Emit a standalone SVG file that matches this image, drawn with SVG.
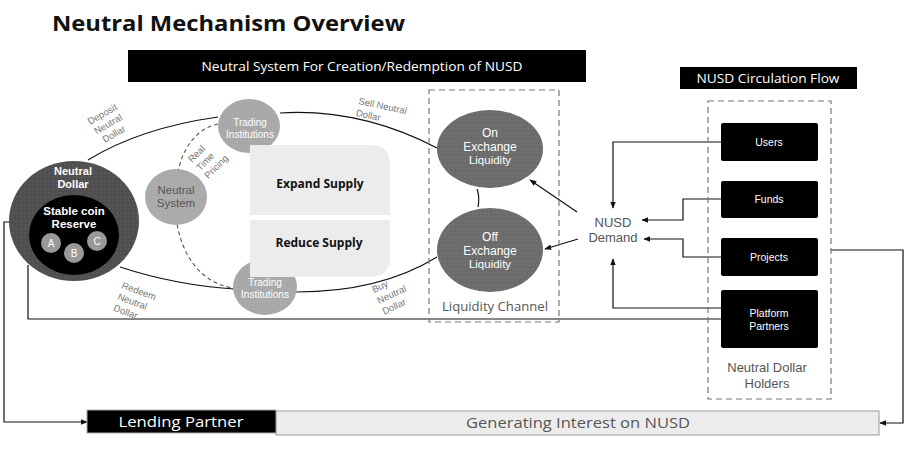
<svg xmlns="http://www.w3.org/2000/svg" width="913" height="453" viewBox="0 0 913 453">
<defs>
<pattern id="dots" width="4" height="4" patternUnits="userSpaceOnUse">
<circle cx="1" cy="1" r="0.45" fill="#ffffff" fill-opacity="0.35"/>
</pattern>
<marker id="arr" viewBox="0 0 10 10" refX="9" refY="5" markerWidth="7" markerHeight="7" orient="auto-start-reverse" markerUnits="userSpaceOnUse">
<path d="M0,1 L10,5 L0,9 z" fill="#111"/>
</marker>
</defs>
<style>
text{font-family:"Open Sans","Liberation Sans",sans-serif;}
.s{font-family:"Liberation Sans",Arial,sans-serif;}
.w{fill:#fff;text-anchor:middle;}
.g{fill:#555;text-anchor:middle;}
.lab{fill:#777;font-size:9.5px;font-family:"Liberation Sans",Arial,sans-serif;}
.b{font-weight:bold;}
.line{fill:none;stroke:#111;stroke-width:1.2;}
.dash{fill:none;stroke:#777;stroke-width:1.2;stroke-dasharray:6 4;}
.blk{fill:#000;}
</style>
<rect width="913" height="453" fill="#fff"/>

<g id="title">
<text x="52" y="31" font-size="22" font-weight="bold" fill="#111" textLength="353" lengthAdjust="spacingAndGlyphs">Neutral Mechanism Overview</text>
</g>

<g id="banner-creation">
<rect x="128" y="50" width="458" height="32" class="blk"/>
<text x="362" y="71" class="w" font-size="12.5" textLength="321" lengthAdjust="spacingAndGlyphs">Neutral System For Creation/Redemption of NUSD</text>
</g>

<g id="banner-circulation">
<rect x="680" y="67" width="177" height="22" class="blk"/>
<text x="768" y="83" class="w" font-size="12.5" textLength="143" lengthAdjust="spacingAndGlyphs">NUSD Circulation Flow</text>
</g>

<g id="connectors">
<path class="line" d="M88,160 Q140,128 218,117"/>
<path class="line" d="M280,113 Q360,108 437,148"/>
<path class="line" d="M120,267 Q175,285 234,289"/>
<path class="line" d="M296,292 Q380,292 437,257"/>
<path fill="none" stroke="#555" stroke-width="1.1" stroke-dasharray="4 3" d="M218,124 C190,130 175,160 175,200 C175,245 195,282 233,288"/>
<path class="line" d="M477,189 Q480,197 478,207"/>
<path class="line" marker-end="url(#arr)" d="M577,212 L530,180"/>
<path class="line" marker-end="url(#arr)" d="M578,239 L545,249"/>
<path class="line" marker-end="url(#arr)" d="M721,142 H613 V208"/>
<path class="line" marker-end="url(#arr)" d="M721,199 H683 V220 H642"/>
<path class="line" marker-end="url(#arr)" d="M721,257 H683 V239 H644"/>
<path class="line" marker-end="url(#arr)" d="M721,308 H613 V259"/>
<path class="line" d="M28,265 V319 H721"/>
<path class="line" marker-end="url(#arr)" d="M10,222 H4 V422 H87"/>
<path class="line" marker-end="url(#arr)" d="M831,250 H903 V423 H880"/>
</g>

<g id="label-deposit" transform="translate(104,117) rotate(-30)">
<text class="lab" text-anchor="middle" x="0" y="0">Deposit</text>
<text class="lab" text-anchor="middle" x="0" y="11.5">Neutral</text>
<text class="lab" text-anchor="middle" x="0" y="23">Dollar</text>
</g>
<g id="label-redeem" transform="translate(121,288) rotate(20)">
<text class="lab" x="0" y="0">Redeem</text>
<text class="lab" x="0" y="12">Neutral</text>
<text class="lab" x="0" y="24">Dollar</text>
</g>
<g id="label-sell" transform="translate(358,104) rotate(12)">
<text class="lab" x="0" y="0">Sell Neutral</text>
<text class="lab" x="0" y="12">Dollar</text>
</g>
<g id="label-buy" transform="translate(374,293) rotate(-25)">
<text class="lab" x="0" y="0">Buy</text>
<text class="lab" x="0" y="12">Neutral</text>
<text class="lab" x="0" y="24">Dollar</text>
</g>
<g id="label-pricing" transform="translate(192,163) rotate(-45)">
<text class="lab" x="0" y="0">Real</text>
<text class="lab" x="0" y="11.5">Time</text>
<text class="lab" x="0" y="23">Pricing</text>
</g>

<g id="neutral-dollar">
<ellipse cx="74" cy="221" rx="65" ry="60" fill="#4f4f4f"/>
<ellipse cx="74" cy="221" rx="65" ry="60" fill="url(#dots)"/>
<ellipse cx="74" cy="235" rx="45" ry="40" fill="#000"/>
<text x="73" y="175" class="w b s" font-size="11">Neutral</text>
<text x="73" y="188" class="w b s" font-size="11">Dollar</text>
<text x="74" y="215" class="w b s" font-size="11.5">Stable coin</text>
<text x="74" y="228" class="w b s" font-size="11.5">Reserve</text>
</g>
<g id="coin-a"><circle cx="51" cy="243" r="10" fill="#999"/><text x="51" y="247" class="w s" font-size="10">A</text></g>
<g id="coin-b"><circle cx="74" cy="253" r="10" fill="#999"/><text x="74" y="257" class="w s" font-size="10">B</text></g>
<g id="coin-c"><circle cx="97" cy="241" r="10" fill="#999"/><text x="97" y="245" class="w s" font-size="10">C</text></g>

<g id="neutral-system">
<ellipse cx="176" cy="197" rx="31" ry="28" fill="#aaa"/>
<ellipse cx="176" cy="197" rx="31" ry="28" fill="url(#dots)"/>
<text x="176" y="194" class="g s" font-size="11.5" fill="#4a4a4a">Neutral</text>
<text x="176" y="207" class="g s" font-size="11.5" fill="#4a4a4a">System</text>
</g>

<g id="trading-top">
<ellipse cx="249" cy="126" rx="31" ry="27" fill="#a8a8a8"/>
<ellipse cx="249" cy="126" rx="31" ry="27" fill="url(#dots)"/>
<text x="250" y="126" class="w s" font-size="10">Trading</text>
<text x="250" y="138" class="w s" font-size="10">Institutions</text>
</g>

<g id="trading-bottom">
<ellipse cx="265" cy="287" rx="32" ry="28" fill="#a8a8a8"/>
<ellipse cx="265" cy="287" rx="32" ry="28" fill="url(#dots)"/>
<text x="265" y="286" class="w s" font-size="10">Trading</text>
<text x="265" y="298" class="w s" font-size="10">Institutions</text>
</g>

<g id="expand-supply">
<path d="M250,145 H370 Q390,145 390,165 V215 H250 Z" fill="#ececec"/>
<text x="320" y="188" font-size="12" class="b" fill="#111" text-anchor="middle">Expand Supply</text>
</g>
<g id="reduce-supply">
<path d="M250,220 H390 V257 Q390,277 370,277 H250 Z" fill="#ececec"/>
<text x="319" y="247" font-size="12" class="b" fill="#111" text-anchor="middle">Reduce Supply</text>
</g>

<g id="liquidity-channel">
<rect x="429" y="90" width="130" height="232" class="dash"/>
<text x="495" y="311" class="g" font-size="12" textLength="106" lengthAdjust="spacingAndGlyphs">Liquidity Channel</text>
</g>

<g id="on-exchange">
<ellipse cx="490" cy="149" rx="53" ry="39" fill="#6b6b6b"/>
<ellipse cx="490" cy="149" rx="53" ry="39" fill="url(#dots)"/>
<text x="490" y="137" class="w s" font-size="12">On</text>
<text x="490" y="151" class="w s" font-size="12">Exchange</text>
<text x="490" y="164" class="w s" font-size="11.5">Liquidity</text>
</g>

<g id="off-exchange">
<ellipse cx="490" cy="250" rx="53" ry="42" fill="#6b6b6b"/>
<ellipse cx="490" cy="250" rx="53" ry="42" fill="url(#dots)"/>
<text x="490" y="241" class="w s" font-size="12">Off</text>
<text x="490" y="255" class="w s" font-size="12">Exchange</text>
<text x="490" y="268" class="w s" font-size="11.5">Liquidity</text>
</g>

<g id="nusd-demand">
<rect x="584" y="210" width="58" height="36" fill="#fff"/>
<text x="613" y="227" class="g s" font-size="13">NUSD</text>
<text x="613" y="242" class="g s" font-size="13">Demand</text>
</g>

<g id="holders">
<rect x="708" y="101" width="123" height="298" class="dash"/>
<text x="767" y="372" class="g s" font-size="13">Neutral Dollar</text>
<text x="767" y="388" class="g s" font-size="13">Holders</text>
</g>
<g id="users"><rect x="721" y="123" width="97" height="38" rx="2" class="blk"/><text x="769" y="146" class="w s" font-size="10.5">Users</text></g>
<g id="funds"><rect x="721" y="181" width="97" height="37" rx="2" class="blk"/><text x="769" y="203" class="w s" font-size="10.5">Funds</text></g>
<g id="projects"><rect x="721" y="238" width="97" height="38" rx="2" class="blk"/><text x="769" y="261" class="w s" font-size="10.5">Projects</text></g>
<g id="platform-partners"><rect x="721" y="290" width="97" height="58" rx="2" class="blk"/><text x="769" y="317" class="w s" font-size="10.5">Platform</text><text x="769" y="330" class="w s" font-size="10.5">Partners</text></g>

<g id="generating-interest">
<rect x="276" y="411" width="603" height="24" fill="#ececec" stroke="#999" stroke-width="1"/>
<text x="578" y="428" class="g" font-size="14" fill="#333" textLength="224" lengthAdjust="spacingAndGlyphs">Generating Interest on NUSD</text>
</g>
<g id="lending-partner">
<rect x="87" y="410" width="189" height="23" class="blk" stroke="#aaa" stroke-width="1"/>
<text x="181" y="427" class="w" font-size="14.5" textLength="125" lengthAdjust="spacingAndGlyphs">Lending Partner</text>
</g>
</svg>
